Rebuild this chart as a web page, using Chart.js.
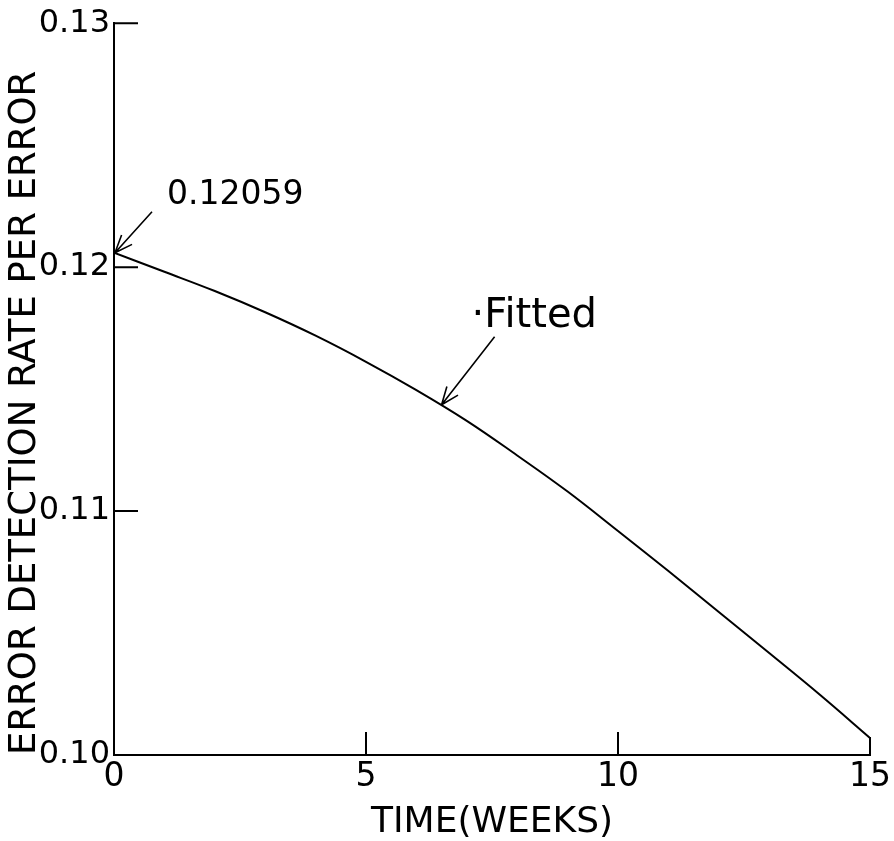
<!DOCTYPE html>
<html>
<head>
<meta charset="utf-8">
<title>Error detection rate per error</title>
<script src="https://cdn.jsdelivr.net/npm/chart.js@4.4.1/dist/chart.umd.min.js"></script>
<style>
  body { margin: 0; background: #fff; }
  #box { width: 894px; height: 841px; }
</style>
</head>
<body>
<div id="box"><canvas id="rateChart"></canvas></div>
<script>
// values
const weeks = [0, 1, 2, 3, 4, 5, 6, 7, 8, 9, 10, 11, 12, 13, 14, 15];
const fittedRate = [0.12059, 0.11981, 0.11902, 0.11815, 0.11719, 0.11612, 0.11496, 0.1137,
  0.11228, 0.1108, 0.10918, 0.10754, 0.10586, 0.10418, 0.10248, 0.1007];
const xTicks = [0, 5, 10, 15];
const yTicks = [0.10, 0.11, 0.12, 0.13];
const noteText = ["0.12059", "\u00b7Fitted"];
const noteWeek = [0, 6.5];
const noteRate = [0.12059, 0.11436];

const FONT = "'DejaVu Sans', sans-serif";

const drawArrow = (ctx, tx, ty, hx, hy) => {
  ctx.beginPath();
  ctx.moveTo(tx, ty);
  ctx.lineTo(hx, hy);
  const a = Math.atan2(ty - hy, tx - hx);
  [0.38, -0.38].forEach((d) => {
    ctx.moveTo(hx, hy);
    ctx.lineTo(hx + 19 * Math.cos(a + d), hy + 19 * Math.sin(a + d));
  });
  ctx.stroke();
};

// inward tick marks and the two arrow notes
const extras = {
  id: "extras",
  afterDraw(chart) {
    const { ctx, scales: { x, y } } = chart;
    ctx.save();
    ctx.strokeStyle = "#000";
    ctx.lineWidth = 2;
    ctx.beginPath();
    yTicks.forEach((v) => {
      const py = y.getPixelForValue(v);
      ctx.moveTo(x.left, py);
      ctx.lineTo(x.left + 24, py);
    });
    xTicks.forEach((v) => {
      const px = x.getPixelForValue(v);
      ctx.moveTo(px, y.bottom);
      ctx.lineTo(px, y.bottom - (v === 15 ? 18 : 23));
    });
    ctx.stroke();

    ctx.lineWidth = 1.6;
    ctx.fillStyle = "#000";
    ctx.textBaseline = "middle";
    ctx.textAlign = "left";
    // 0.12059
    let hx = x.getPixelForValue(noteWeek[0]) + 1;
    let hy = y.getPixelForValue(noteRate[0]);
    drawArrow(ctx, hx + 37, hy - 41, hx, hy);
    ctx.font = `33px ${FONT}`;
    ctx.fillText(noteText[0], hx + 52, hy - 57);
    // Fitted
    hx = x.getPixelForValue(noteWeek[1]);
    hy = y.getPixelForValue(noteRate[1]);
    drawArrow(ctx, hx + 53, hy - 68, hx, hy);
    ctx.font = `40px ${FONT}`;
    ctx.fillText(noteText[1], hx + 30, hy - 88);
    ctx.restore();
  },
};

window.addEventListener("DOMContentLoaded", () => {
  new Chart("rateChart", {
    type: "line",
    data: {
      datasets: [
        {
          label: "Fitted",
          data: weeks.map((w, i) => ({ x: w, y: fittedRate[i] })),
          borderColor: "#000",
          borderWidth: 2,
          pointRadius: 0,
          tension: 0.4,
          fill: false,
        },
      ],
    },
    options: {
      responsive: true,
      maintainAspectRatio: false,
      animation: false,
      devicePixelRatio: 1,
      layout: { padding: { top: 20, right: 22, left: 0, bottom: 0 } },
      plugins: { legend: { display: false }, tooltip: { enabled: false } },
      scales: {
        x: {
          type: "linear",
          min: 0,
          max: 15,
          afterFit: (s) => { s.height = 86; },
          afterBuildTicks: (s) => { s.ticks = xTicks.map((v) => ({ value: v })); },
          grid: { display: false, drawTicks: false },
          border: { display: true, color: "#000", width: 2 },
          ticks: {
            color: "#000",
            padding: 3,
            maxRotation: 0,
            font: { family: FONT, size: 33 },
          },
          title: {
            display: true,
            text: "TIME(WEEKS)",
            color: "#000",
            padding: { top: 0, bottom: 0 },
            font: { family: FONT, size: 36, lineHeight: 1 },
          },
        },
        y: {
          min: 0.1,
          max: 0.13,
          afterFit: (s) => { s.width = 114; },
          afterBuildTicks: (s) => { s.ticks = yTicks.map((v) => ({ value: v })); },
          grid: { display: false, drawTicks: false },
          border: { display: true, color: "#000", width: 2 },
          ticks: {
            color: "#000",
            padding: 4,
            font: { family: FONT, size: 32 },
            callback: (v) => v.toFixed(2),
          },
          title: {
            display: true,
            text: "ERROR DETECTION RATE PER ERROR",
            color: "#000",
            align: "start",
            padding: { top: 3, bottom: 0 },
            font: { family: FONT, size: 37, lineHeight: 1.2 },
          },
        },
      },
    },
    plugins: [extras],
  });
});
</script>
</body>
</html>
